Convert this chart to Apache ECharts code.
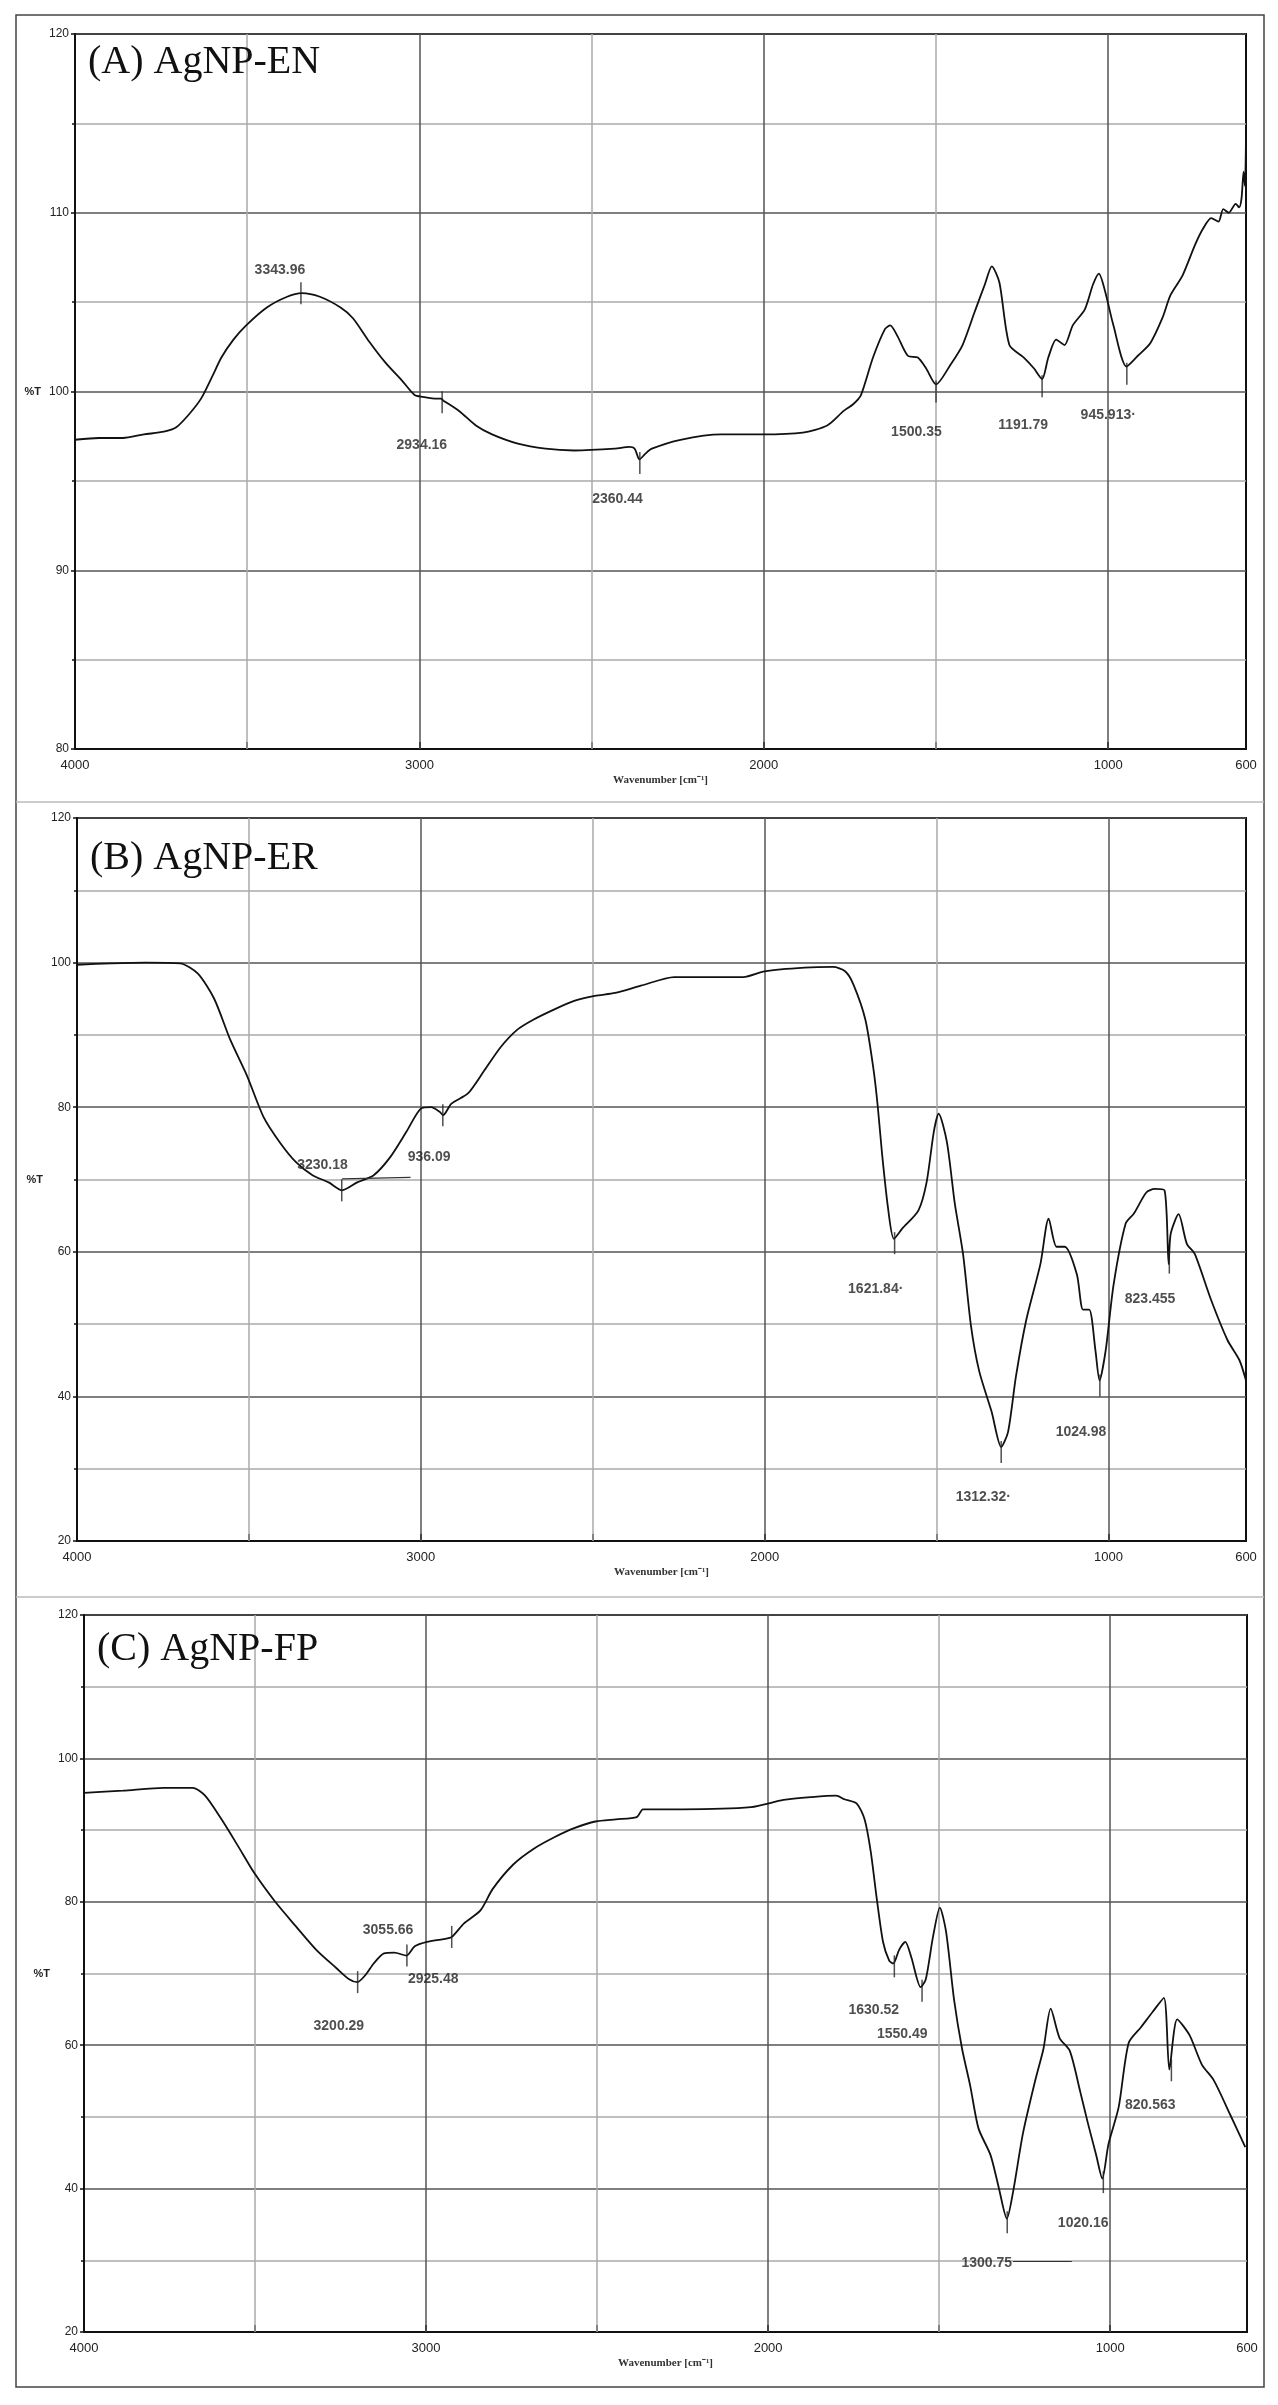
<!DOCTYPE html>
<html>
<head>
<meta charset="utf-8">
<script src="https://cdn.jsdelivr.net/npm/echarts@6/dist/echarts.min.js"></script>
<style>
  html, body { margin: 0; padding: 0; background: #fff; }
  #ftir { width: 1278px; height: 2405px; }
</style>
</head>
<body>
<div id="ftir"></div>
<script>
// 三个样品的 FTIR 光谱 (波数 cm-1, 透过率 %T)
const panelTitles = ['(A) AgNP-EN', '(B) AgNP-ER', '(C) AgNP-FP'];

const wnA = [4000, 3930, 3861, 3800, 3742, 3706, 3670, 3634, 3600, 3575, 3540, 3503, 3443, 3384, 3342, 3289, 3229, 3193, 3146, 3098, 3050, 3014, 2990, 2950, 2937, 2931, 2884, 2836, 2789, 2717, 2634, 2551, 2432, 2391, 2375, 2361, 2345, 2325, 2242, 2124, 2006, 1887, 1816, 1769, 1740, 1718, 1683, 1648, 1633, 1612, 1582, 1553, 1529, 1500, 1458, 1423, 1387, 1358, 1338, 1316, 1287, 1245, 1216, 1192, 1174, 1151, 1127, 1103, 1068, 1044, 1027, 1009, 985, 947, 914, 878, 843, 819, 784, 748, 725, 701, 680, 666, 650, 630, 620, 613, 607, 603, 600];
const tA = [97.3, 97.4, 97.4, 97.6, 97.75, 98.0, 98.7, 99.6, 100.9, 101.9, 102.9, 103.7, 104.7, 105.3, 105.5, 105.3, 104.7, 104.1, 102.8, 101.6, 100.6, 99.8, 99.7, 99.6, 99.6, 99.5, 98.9, 98.1, 97.6, 97.1, 96.8, 96.7, 96.8, 96.9, 96.8, 96.2, 96.5, 96.8, 97.3, 97.6, 97.6, 97.7, 98.1, 98.9, 99.3, 99.8, 101.9, 103.5, 103.7, 103.1, 102.0, 101.9, 101.3, 100.4, 101.5, 102.6, 104.5, 106.0, 107.0, 106.1, 102.6, 101.9, 101.3, 100.7, 101.9, 102.9, 102.6, 103.7, 104.6, 106.0, 106.6, 105.6, 103.7, 101.4, 102.0, 102.7, 104.1, 105.4, 106.5, 108.2, 109.1, 109.7, 109.5, 110.2, 110.0, 110.5, 110.3, 110.8, 112.3, 111.5, 114.3];

const wnB = [4000, 3900, 3800, 3700, 3649, 3601, 3554, 3506, 3458, 3411, 3363, 3315, 3268, 3229, 3185, 3137, 3089, 3042, 3000, 2970, 2946, 2935, 2911, 2863, 2815, 2768, 2720, 2673, 2613, 2554, 2494, 2435, 2360, 2263, 2062, 2000, 1884, 1801, 1766, 1742, 1707, 1683, 1671, 1659, 1641, 1624, 1600, 1553, 1529, 1508, 1494, 1470, 1447, 1423, 1400, 1376, 1340, 1312, 1292, 1269, 1239, 1198, 1174, 1151, 1127, 1092, 1074, 1056, 1038, 1026, 1008, 985, 950, 926, 890, 866, 837, 825, 819, 796, 772, 749, 702, 654, 619, 600];
const tB = [99.7, 99.9, 100.0, 99.9, 98.5, 95.0, 89.3, 84.4, 78.7, 75.2, 72.4, 70.6, 69.6, 68.5, 69.6, 70.6, 73.1, 76.6, 79.8, 80.0, 79.4, 78.9, 80.5, 81.9, 85.1, 88.3, 90.7, 92.1, 93.5, 94.7, 95.4, 95.8, 96.8, 98.0, 98.0, 98.8, 99.3, 99.4, 98.8, 97.0, 92.1, 85.1, 80.1, 73.8, 66.0, 61.8, 63.2, 65.7, 69.6, 76.6, 79.1, 75.2, 66.7, 59.7, 49.8, 43.5, 37.9, 33.0, 35.1, 42.8, 50.6, 58.3, 64.6, 60.7, 60.7, 56.9, 52.0, 52.0, 46.4, 42.2, 46.4, 55.5, 63.9, 65.3, 68.2, 68.7, 68.5, 58.3, 62.5, 65.2, 61.1, 59.7, 53.4, 47.8, 45.0, 42.2];

const wnC = [4000, 3886, 3766, 3682, 3646, 3598, 3550, 3502, 3441, 3381, 3321, 3261, 3225, 3201, 3177, 3153, 3123, 3093, 3057, 3033, 2997, 2949, 2925, 2889, 2841, 2805, 2745, 2685, 2625, 2565, 2505, 2445, 2384, 2366, 2335, 2252, 2050, 1955, 1872, 1801, 1777, 1741, 1718, 1700, 1682, 1664, 1646, 1634, 1617, 1599, 1581, 1554, 1539, 1518, 1498, 1480, 1456, 1433, 1409, 1385, 1350, 1326, 1302, 1284, 1255, 1219, 1195, 1174, 1148, 1118, 1088, 1065, 1041, 1023, 1005, 975, 946, 910, 875, 843, 827, 804, 768, 732, 697, 649, 605];
const tC = [95.2, 95.5, 95.9, 95.9, 94.8, 91.5, 87.8, 84.0, 80.0, 76.6, 73.3, 70.7, 69.2, 68.8, 69.8, 71.4, 72.8, 72.9, 72.5, 73.8, 74.4, 74.8, 75.1, 77.0, 78.8, 81.8, 85.2, 87.4, 89.0, 90.3, 91.2, 91.5, 91.8, 92.9, 92.9, 92.9, 93.2, 94.2, 94.6, 94.8, 94.3, 93.7, 91.5, 87.0, 80.3, 74.4, 71.8, 71.4, 73.3, 74.4, 72.2, 68.1, 69.2, 75.1, 79.2, 75.9, 66.2, 59.5, 54.3, 48.4, 44.7, 40.2, 35.8, 39.5, 47.7, 55.1, 59.5, 65.1, 61.0, 59.2, 53.6, 49.1, 44.7, 41.4, 46.2, 51.4, 60.3, 62.5, 64.7, 66.6, 56.6, 63.6, 61.4, 57.3, 55.1, 50.3, 45.8];

// 峰位标记 (波数, %T)
const peakWnA = [3344, 2934, 2360, 1500, 1192, 946];
const peakTA = [105.5, 99.4, 96.0, 100.0, 100.3, 101.0];
const peakWnB = [3230, 2936, 1622, 1312, 1025, 823];
const peakTB = [68.5, 78.9, 61.2, 32.3, 41.5, 58.5];
const peakWnC = [3200, 3056, 2925, 1631, 1550, 1301, 1020, 821];
const peakTC = [68.8, 72.5, 75.1, 71.0, 67.6, 35.3, 40.9, 56.5];

// 峰位文字及其位置
const labelTextA = ['3343.96', '2934.16', '2360.44', '1500.35', '1191.79', '945.913·'];
const labelWnA = [3405, 2993, 2425, 1557, 1247, 1000];
const labelTA = [106.8, 97.0, 94.0, 97.7, 98.1, 98.7];
const labelTextB = ['3230.18', '936.09', '1621.84·', '1312.32·', '1024.98', '823.455'];
const labelWnB = [3286, 2976, 1677, 1364, 1080, 879];
const labelTB = [72.0, 73.1, 54.9, 26.1, 35.1, 53.4];
const labelTextC = ['3200.29', '3055.66', '2925.48', '1630.52', '1550.49', '1300.75', '1020.16', '820.563'];
const labelWnC = [3255, 3111, 2979, 1691, 1608, 1361, 1079, 883];
const labelTC = [62.7, 76.1, 69.2, 64.9, 61.5, 29.6, 35.2, 51.6];

// 标注引线
const leaderB = [[3229, 70.1], [3030, 70.3]];
const leaderC = [[1284, 29.8], [1112, 29.8]];

// 坐标轴
const xMin = 600, xMax = 4000;
const xLabelValues = [4000, 3000, 2000, 1000, 600];
const xTickValues = [3500, 3000, 2500, 2000, 1500, 1000];
const xGridMajor = [3000, 2000, 1000];
const xGridMinor = [3500, 2500, 1500];
const yRanges = [
    { min: 80, max: 120, interval: 10 },
    { min: 20, max: 120, interval: 20 },
    { min: 20, max: 120, interval: 20 }
];

const grids = [
    { left: 75, top: 34, width: 1171, height: 715 },
    { left: 77, top: 818, width: 1169, height: 723 },
    { left: 84, top: 1615, width: 1163, height: 717 }
];
const titleTops = [42, 838, 1629];

const spectra = [[wnA, tA], [wnB, tB], [wnC, tC]];
const peaks = [[peakWnA, peakTA], [peakWnB, peakTB], [peakWnC, peakTC]];
const peakLabels = [[labelTextA, labelWnA, labelTA], [labelTextB, labelWnB, labelTB], [labelTextC, labelWnC, labelTC]];
const leaders = [null, leaderB, leaderC];

const zip = (a, b) => a.map((v, i) => [v, b[i]]);

const chart = echarts.init(document.getElementById('ftir'), null, { renderer: 'canvas' });

const xAxis = grids.map((g, i) => ({
    type: 'value',
    gridIndex: i,
    min: xMin,
    max: xMax,
    inverse: true,
    name: 'Wavenumber [cm⁻¹]',
    nameLocation: 'middle',
    nameGap: 26,
    nameTextStyle: { fontFamily: 'Liberation Serif', fontSize: 11, fontWeight: 'bold', color: '#333' },
    axisLine: { show: true, lineStyle: { color: '#111', width: 2 } },
    axisTick: { show: true, inside: true, length: 7, customValues: xTickValues, lineStyle: { color: '#111', width: 2 } },
    axisLabel: {
        customValues: xLabelValues,
        formatter: v => String(v),
        fontFamily: 'Liberation Sans',
        fontSize: 13,
        color: '#222',
        margin: 10
    },
    splitLine: { show: false }
}));

const yAxis = grids.map((g, i) => ({
    type: 'value',
    gridIndex: i,
    min: yRanges[i].min,
    max: yRanges[i].max,
    interval: yRanges[i].interval,
    name: '%T',
    nameLocation: 'middle',
    nameRotate: 0,
    nameGap: 34,
    nameTextStyle: { fontFamily: 'Liberation Sans', fontSize: 11, fontWeight: 'bold', color: '#222', padding: [18, 0, 0, 0] },
    axisLine: { show: true, lineStyle: { color: '#111', width: 2 } },
    axisTick: { show: true, length: 4, lineStyle: { color: '#111', width: 1.5 } },
    minorTick: { show: true, splitNumber: 2, length: 3, lineStyle: { color: '#111', width: 1.5 } },
    axisLabel: { fontFamily: 'Liberation Sans', fontSize: 12, color: '#222', margin: 6 },
    splitLine: { show: true, lineStyle: { color: '#555', width: 1.5 } },
    minorSplitLine: { show: true, lineStyle: { color: '#aaa', width: 1.5 } }
}));

const series = [];
grids.forEach((g, i) => {
    // 竖向网格线
    series.push({
        type: 'line',
        xAxisIndex: i,
        yAxisIndex: i,
        data: [],
        silent: true,
        z: 1,
        markLine: {
            silent: true,
            z: 1,
            symbol: ['none', 'none'],
            label: { show: false },
            data: xGridMajor.map(v => ({ xAxis: v, lineStyle: { color: '#555', width: 1.5, type: 'solid' } }))
                .concat(xGridMinor.map(v => ({ xAxis: v, lineStyle: { color: '#aaa', width: 1.5, type: 'solid' } })))
        }
    });
    // 光谱曲线
    series.push({
        type: 'line',
        xAxisIndex: i,
        yAxisIndex: i,
        data: zip(spectra[i][0], spectra[i][1]),
        showSymbol: false,
        smooth: 0.25,
        silent: true,
        z: 3,
        lineStyle: { color: '#111', width: 1.8 }
    });
    // 峰位竖线标记
    series.push({
        type: 'scatter',
        xAxisIndex: i,
        yAxisIndex: i,
        data: zip(peaks[i][0], peaks[i][1]),
        symbol: 'rect',
        symbolSize: [1.5, 22],
        itemStyle: { color: '#222' },
        silent: true,
        z: 4
    });
    // 峰位数值文字
    const [texts, lw, lt] = peakLabels[i];
    const lab = {
        type: 'scatter',
        xAxisIndex: i,
        yAxisIndex: i,
        data: texts.map((t, k) => ({ name: t, value: [lw[k], lt[k]] })),
        symbolSize: 0.1,
        itemStyle: { color: 'rgba(0,0,0,0)' },
        silent: true,
        z: 5,
        label: {
            show: true,
            position: 'inside',
            formatter: p => p.name,
            fontFamily: 'Liberation Sans',
            fontSize: 14,
            fontWeight: 'bold',
            color: '#222'
        }
    };
    if (leaders[i]) {
        lab.markLine = {
            silent: true,
            symbol: ['none', 'none'],
            label: { show: false },
            lineStyle: { color: '#333', width: 1.2, type: 'solid' },
            data: [[{ coord: leaders[i][0] }, { coord: leaders[i][1] }]]
        };
    }
    series.push(lab);
});

const option = {
    backgroundColor: '#fff',
    animation: false,
    title: panelTitles.map((t, i) => ({
        text: t,
        left: grids[i].left + 13,
        top: titleTops[i],
        padding: 0,
        textStyle: { fontFamily: 'Liberation Serif', fontSize: 40, fontWeight: 'normal', color: '#111' }
    })),
    grid: grids.map(g => Object.assign({ show: true, borderColor: '#111', borderWidth: 2, backgroundColor: 'transparent' }, g)),
    xAxis: xAxis,
    yAxis: yAxis,
    graphic: [
        { type: 'rect', shape: { x: 16, y: 15, width: 1248, height: 2372 }, style: { fill: 'none', stroke: '#444', lineWidth: 1.5 }, silent: true },
        { type: 'line', shape: { x1: 16, y1: 802, x2: 1264, y2: 802 }, style: { stroke: '#bbb', lineWidth: 1.5 }, silent: true },
        { type: 'line', shape: { x1: 16, y1: 1597, x2: 1264, y2: 1597 }, style: { stroke: '#bbb', lineWidth: 1.5 }, silent: true }
    ],
    series: series
};

chart.setOption(option);

window.addEventListener('resize', () => {
    chart.resize();
});
</script>
</body>
</html>
